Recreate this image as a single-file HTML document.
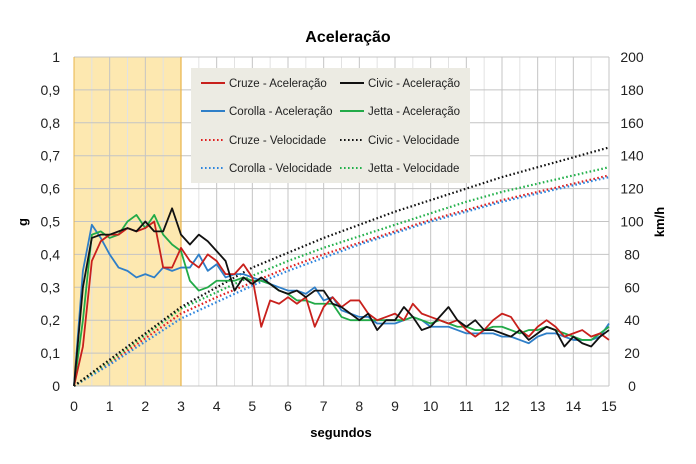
<!DOCTYPE html>
<html><head><meta charset="utf-8"><style>
body{margin:0;background:#fff}
svg{display:block;font-family:"Liberation Sans",sans-serif}
</style></head><body>
<svg id="c" width="696" height="464"></svg>
<script>
const accTime = 15;
const cruzeAcc=[0,0.12,0.38,0.44,0.46,0.46,0.48,0.47,0.48,0.50,0.36,0.36,0.42,0.38,0.36,0.40,0.38,0.34,0.34,0.37,0.33,0.18,0.26,0.25,0.27,0.25,0.27,0.18,0.24,0.27,0.24,0.26,0.26,0.22,0.20,0.21,0.22,0.20,0.25,0.22,0.21,0.20,0.19,0.20,0.17,0.15,0.17,0.20,0.22,0.21,0.17,0.15,0.18,0.20,0.18,0.15,0.16,0.17,0.15,0.16,0.14];
const civicAcc=[0,0.30,0.45,0.46,0.46,0.47,0.48,0.47,0.50,0.47,0.47,0.54,0.46,0.43,0.46,0.44,0.41,0.38,0.29,0.33,0.31,0.33,0.31,0.29,0.28,0.29,0.27,0.29,0.29,0.25,0.24,0.22,0.20,0.22,0.17,0.20,0.20,0.24,0.21,0.17,0.18,0.21,0.24,0.20,0.18,0.20,0.17,0.17,0.16,0.15,0.17,0.14,0.16,0.18,0.17,0.12,0.15,0.13,0.12,0.15,0.17];
const corollaAcc=[0,0.35,0.49,0.45,0.40,0.36,0.35,0.33,0.34,0.33,0.36,0.35,0.36,0.36,0.40,0.35,0.37,0.33,0.34,0.34,0.33,0.32,0.31,0.30,0.29,0.29,0.28,0.30,0.26,0.27,0.23,0.22,0.21,0.21,0.19,0.19,0.19,0.20,0.21,0.20,0.18,0.18,0.18,0.17,0.16,0.16,0.16,0.16,0.15,0.15,0.14,0.13,0.15,0.16,0.16,0.15,0.14,0.14,0.14,0.15,0.19];
const jettaAcc=[0,0.20,0.46,0.47,0.45,0.46,0.50,0.52,0.48,0.52,0.46,0.43,0.41,0.32,0.29,0.30,0.32,0.32,0.32,0.33,0.32,0.32,0.31,0.29,0.28,0.26,0.26,0.25,0.25,0.25,0.21,0.20,0.20,0.20,0.20,0.20,0.20,0.20,0.21,0.20,0.19,0.20,0.19,0.18,0.18,0.17,0.17,0.18,0.18,0.17,0.16,0.17,0.17,0.18,0.17,0.16,0.15,0.14,0.14,0.16,0.18];
const civicVel=[0,16,32,48,60,72,81,90,98,106,113,120,127,133,139,145];
const jettaVel=[0,15,31,47,57,67,76,84,91,98,105,112,118,123,128,133];
const cruzeVel=[0,14,29,44,54,63,72,80,87,94,101,107,113,118,123,128];
const corollaVel=[0,13,27,41,51,61,70,78,86,93,100,106,112,117,122,127];
const xTicks=["0","1","2","3","4","5","6","7","8","9","10","11","12","13","14","15"];
const gTicks=["0","0,1","0,2","0,3","0,4","0,5","0,6","0,7","0,8","0,9","1"];
const kmhTicks=["0","20","40","60","80","100","120","140","160","180","200"];

const X0=74,X1=609,Y0=386,Y1=57;
const sx=t=>X0+(X1-X0)*t/15;
const sy=g=>Y0-(Y0-Y1)*g;
const sv=v=>sy(v/200);
const svg=document.getElementById('c');
const NS='http://www.w3.org/2000/svg';
function mk(tag,attrs,parent){const e=document.createElementNS(NS,tag);for(const k in attrs)e.setAttribute(k,attrs[k]);(parent||svg).appendChild(e);return e;}

const band=mk('rect',{x:sx(0),y:Y1,width:sx(3)-sx(0),height:Y0-Y1,fill:'#fde8b0'});


for(let i=0;i<=30;i++){const x=sx(i/2);const l=mk('line',{x1:x,x2:x,y1:Y1,y2:Y0,stroke:i%2?'#e2e2e2':'#c4c4c4','stroke-width':1});

}
for(let i=0;i<=10;i++){const y=sy(i/10);const l=mk('line',{x1:X0,x2:X1,y1:y,y2:y,stroke:'#c4c4c4','stroke-width':1});

}
mk('line',{x1:sx(3),x2:sx(3),y1:Y1,y2:Y0,stroke:'#e8b44a','stroke-width':1.2});
mk('line',{x1:X0,x2:X0,y1:Y1,y2:Y0,stroke:'#e8b44a','stroke-width':1});
xTicks.forEach((t,i)=>{const e=mk('text',{x:sx(i),y:Y0+25,'text-anchor':'middle','font-size':14,fill:'#222'});e.textContent=t;

});
gTicks.forEach((t,i)=>{const e=mk('text',{x:60,y:sy(i/10)+5,'text-anchor':'end','font-size':14,fill:'#222'});e.textContent=t;

});
kmhTicks.forEach((t,i)=>{const e=mk('text',{x:632,y:sy(i/10)+5,'text-anchor':'middle','font-size':14,fill:'#222'});e.textContent=t;

});
function line(arr,xf,yf,color,dotted,name){const n=arr.length;const pts=arr.map((v,i)=>xf(i,n)+','+yf(v)).join(' ');
const p=mk('polyline',{points:pts,fill:'none',stroke:color,'stroke-width':dotted?2.2:1.8,'stroke-linejoin':'round'});
if(dotted)p.setAttribute('stroke-dasharray','1.6 2.4');

}
const ax=(i,n)=>sx(i*accTime/(n-1));
const vx=(i,n)=>sx(i*15/(n-1));
line(cruzeVel,vx,sv,'#e02020',true,'cruze-velocity');
line(corollaVel,vx,sv,'#2e86de',true,'corolla-velocity');
line(jettaVel,vx,sv,'#22b04a',true,'jetta-velocity');
line(civicVel,vx,sv,'#111',true,'civic-velocity');
line(corollaAcc,ax,sy,'#2f7fc8',false,'corolla-acceleration');
line(jettaAcc,ax,sy,'#22aa48',false,'jetta-acceleration');
line(cruzeAcc,ax,sy,'#c8201c',false,'cruze-acceleration');
line(civicAcc,ax,sy,'#111',false,'civic-acceleration');
</script>
<svg style="position:absolute;left:0;top:0" width="696" height="464">
<text x="348" y="42" text-anchor="middle" font-size="16" font-weight="bold" font-family="Liberation Sans,sans-serif">Aceleração</text>
<text x="341" y="437" text-anchor="middle" font-size="13" font-weight="bold" font-family="Liberation Sans,sans-serif">segundos</text>
<text transform="translate(27,222) rotate(-90)" text-anchor="middle" font-size="13" font-weight="bold" font-family="Liberation Sans,sans-serif">g</text>
<text transform="translate(664,222) rotate(-90)" text-anchor="middle" font-size="13" font-weight="bold" font-family="Liberation Sans,sans-serif">km/h</text>
<g font-family="Liberation Sans,sans-serif" font-size="11.5" fill="#222">
<rect x="191" y="68" width="279" height="115" fill="#ecebe3"/>
<line x1="201" x2="225" y1="83" y2="83" stroke="#c8201c" stroke-width="2"/><text x="229" y="87">Cruze - Aceleração</text>
<line x1="340" x2="364" y1="83" y2="83" stroke="#111" stroke-width="2"/><text x="368" y="87">Civic - Aceleração</text>
<line x1="201" x2="225" y1="111" y2="111" stroke="#2f7fc8" stroke-width="2"/><text x="229" y="115">Corolla - Aceleração</text>
<line x1="340" x2="364" y1="111" y2="111" stroke="#22aa48" stroke-width="2"/><text x="368" y="115">Jetta - Aceleração</text>
<line x1="201" x2="225" y1="140" y2="140" stroke="#e02020" stroke-width="2" stroke-dasharray="1.6 2.4"/><text x="229" y="144">Cruze - Velocidade</text>
<line x1="340" x2="364" y1="140" y2="140" stroke="#111" stroke-width="2" stroke-dasharray="1.6 2.4"/><text x="368" y="144">Civic - Velocidade</text>
<line x1="201" x2="225" y1="168" y2="168" stroke="#2e86de" stroke-width="2" stroke-dasharray="1.6 2.4"/><text x="229" y="172">Corolla - Velocidade</text>
<line x1="340" x2="364" y1="168" y2="168" stroke="#22b04a" stroke-width="2" stroke-dasharray="1.6 2.4"/><text x="368" y="172">Jetta - Velocidade</text>
</g>
</svg>
</body></html>
